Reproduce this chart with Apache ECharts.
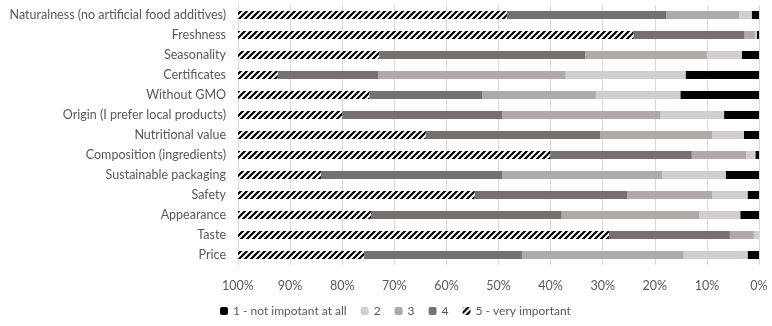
<!DOCTYPE html>
<html>
<head>
<meta charset="utf-8">
<script src="https://cdn.jsdelivr.net/npm/echarts@6/dist/echarts.min.js"></script>
<style>
  html, body { margin: 0; padding: 0; background: #fff; }
  #chart { width: 772px; height: 326px; }
</style>
</head>
<body>
<div id="chart"></div>
<script>
// categories, top to bottom
const categories = [
  "Naturalness (no artificial food additives)",
  "Freshness",
  "Seasonality",
  "Certificates",
  "Without GMO",
  "Origin (I prefer local products)",
  "Nutritional value",
  "Composition (ingredients)",
  "Sustainable packaging",
  "Safety",
  "Appearance",
  "Taste",
  "Price"
]
// shares in %, same order as categories
const notImportant = [1.4, 0.4, 3.3, 14.1, 15.1, 6.7, 2.9, 0.7, 6.4, 2.2, 3.6, 0, 2.2]
const level2 = [2.4, 0.4, 6.7, 23.0, 16.2, 12.2, 6.1, 1.8, 12.2, 6.8, 7.9, 1.0, 12.3]
const level3 = [14.0, 2.0, 23.4, 36.0, 21.8, 30.4, 21.5, 10.4, 30.7, 16.3, 26.4, 4.6, 31.0]
const level4 = [30.6, 21.3, 39.5, 19.3, 21.7, 30.7, 33.5, 27.2, 34.8, 29.3, 36.6, 23.2, 30.3]
const veryImportant = [51.6, 75.9, 27.1, 7.6, 25.2, 20.0, 36.0, 59.9, 15.9, 45.4, 25.5, 71.2, 24.2]
const seriesNames = ["1 - not impotant at all", "2", "3", "4", "5 - very important"]
const xTicks = [0, 10, 20, 30, 40, 50, 60, 70, 80, 90, 100]

// diagonal hatch like the excel "wide upward diagonal"
const hatch = document.createElement("canvas")
hatch.width = 6
hatch.height = 6
const ctx = hatch.getContext("2d")
ctx.fillStyle = "#fff"
ctx.fillRect(0, 0, 6, 6)
ctx.strokeStyle = "#000"
ctx.lineWidth = 2.2
ctx.beginPath()
ctx.moveTo(-1, 7); ctx.lineTo(7, -1)
ctx.moveTo(-4, 4); ctx.lineTo(4, -4)
ctx.moveTo(2, 10); ctx.lineTo(10, 2)
ctx.stroke()

const colors = ["#000000", "#d0cece", "#aeaaaa", "#767171", { image: hatch, repeat: "repeat" }]
const values = [notImportant, level2, level3, level4, veryImportant]

const chart = echarts.init(document.getElementById("chart"))
const font = "Lato, 'Open Sans', sans-serif"

chart.setOption({
  animation: false,
  textStyle: { fontFamily: font },
  grid: { left: 238, right: 13, top: 5, bottom: 61 },
  legend: {
    bottom: 4,
    left: 215,
    itemWidth: 8,
    itemHeight: 8,
    itemGap: 14,
    textStyle: { fontSize: 12, color: "#595959", fontFamily: font },
    data: seriesNames
  },
  xAxis: {
    type: "value",
    inverse: true,
    min: 0,
    max: 100,
    interval: 10,
    axisLine: { show: false },
    axisTick: { show: false },
    axisLabel: {
      fontSize: 12.5,
      color: "#595959",
      margin: 14,
      formatter: (v) => (xTicks.includes(v) ? v + "%" : "")
    },
    splitLine: { lineStyle: { color: "#d9d9d9" } }
  },
  yAxis: {
    type: "category",
    inverse: true,
    data: categories,
    axisLine: { show: true, onZero: false, lineStyle: { color: "#d9d9d9" } },
    axisTick: { show: false },
    axisLabel: { fontSize: 12.5, color: "#595959", margin: 12 }
  },
  series: seriesNames.map((name, i) => ({
    name: name,
    type: "bar",
    stack: "total",
    barWidth: 8,
    itemStyle: { color: colors[i] },
    data: values[i]
  }))
})
</script>
</body>
</html>
